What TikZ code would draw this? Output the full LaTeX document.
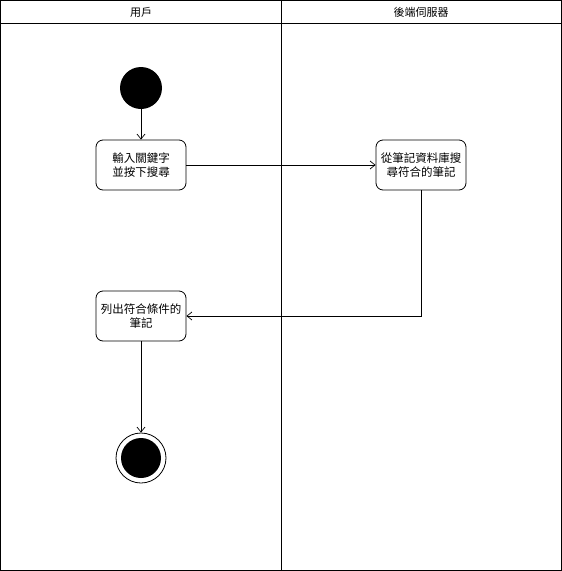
\documentclass[tikz,border=0pt]{standalone}
\usepackage{fontspec}
\newfontfamily\cjk{Noto Sans CJK TC}
\usetikzlibrary{arrows.meta,positioning}
\tikzset{
    action/.style={draw, line width=0.8pt, rounded corners=7pt, minimum width=90pt, minimum height=50pt,
        align=center, inner sep=1pt, font=\cjk\fontsize{11.5}{14}\selectfont},
    flow/.style={-{Straight Barb[length=5pt,width=8pt]}, line width=0.7pt},
    lane/.style={font=\cjk\fontsize{11}{13}\selectfont}
}
\begin{document}
\begin{tikzpicture}[x=1pt,y=-1pt]
    \useasboundingbox (0,0) rectangle (562,571);
    % swimlanes
    \draw[line width=0.9pt] (0.5,0.5) rectangle (561.5,570.5);
    \draw[line width=0.9pt] (281,0.5) -- (281,570.5);
    \draw[line width=0.7pt] (0.5,23) -- (561.5,23);
    \node[lane] (userlane) at (141,12) {用戶};
    \node[lane] (serverlane) at (421,12) {後端伺服器};
    % activities
    \node[circle, fill=black, minimum size=42pt, inner sep=0pt] (start) at (141,88) {};
    \node[action] (input) at (141,165) {輸入關鍵字\\並按下搜尋};
    \node[action] (search) at (421,165) {從筆記資料庫搜\\尋符合的筆記};
    \node[action] (list) at (141,316) {列出符合條件的\\筆記};
    \node[circle, draw, line width=0.8pt, minimum size=50pt, inner sep=0pt] (end) at (141,458) {};
    \node[circle, fill=black, minimum size=40pt, inner sep=0pt] at (end) {};
    % transitions
    \draw[flow] (start) -- (input);
    \draw[flow] (input) -- (search);
    \draw[flow] (search.south) |- (list.east);
    \draw[flow] (list) -- (end);
\end{tikzpicture}
\end{document}
